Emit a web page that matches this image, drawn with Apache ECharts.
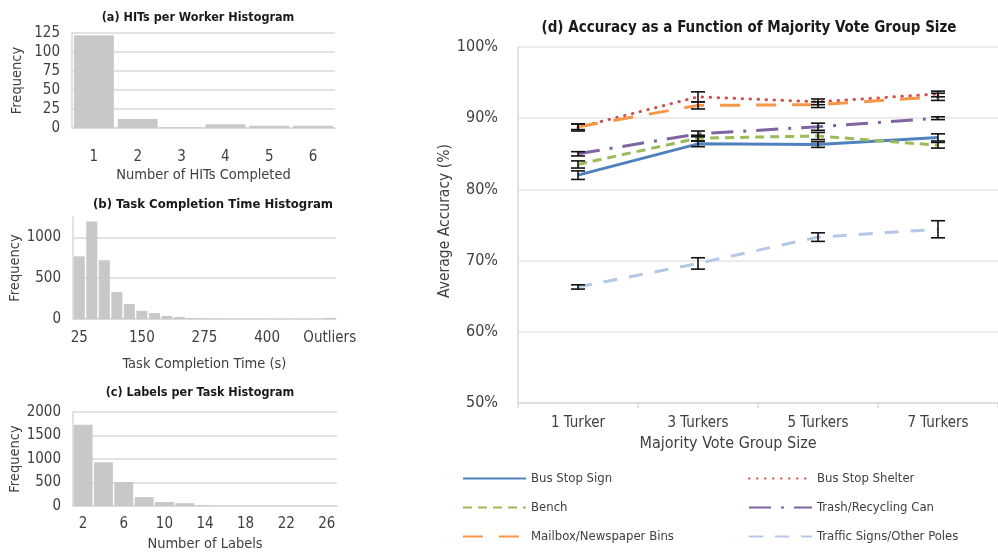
<!DOCTYPE html>
<html>
<head>
<meta charset="utf-8">
<script src="https://cdn.jsdelivr.net/npm/echarts@6/dist/echarts.min.js"></script>
<style>
  html, body { margin: 0; padding: 0; background: #fff; }
  #main { width: 998px; height: 558px; }
</style>
</head>
<body>
<div id="main"></div>
<script>
// (a) HITs per worker
const hitsCats = ['1', '2', '3', '4', '5', '6'];
const hitsFreq = [122, 12, 1, 5, 3, 3];

// (b) task completion time (s)
const timeCats = ['25', '50', '75', '100', '125', '150', '175', '200', '225', '250', '275',
                  '300', '325', '350', '375', '400', '425', '450', '475', '500', 'Outliers'];
const timeFreq = [768, 1195, 720, 330, 183, 100, 73, 37, 25, 12, 6, 4, 3, 2, 2, 1, 1, 1, 1, 1, 15];

// (c) labels per task
const labelCats = ['2', '4', '6', '8', '10', '12', '14', '16', '18', '20', '22', '24', '26'];
const labelFreq = [1730, 930, 510, 190, 85, 60, 10, 5, 3, 2, 1, 1, 1];

// (d) accuracy vs majority vote group size
const groupSizes = ['1 Turker', '3 Turkers', '5 Turkers', '7 Turkers'];
const busStopSign = [82.0, 86.4, 86.3, 87.3];
const busStopSignErr = [0.6, 0.4, 0.4, 0.5];
const busStopShelter = [88.7, 93.0, 92.3, 93.4];
const busStopShelterErr = [0.5, 0.7, 0.4, 0.4];
const bench = [83.5, 87.2, 87.5, 86.2];
const benchErr = [0.5, 0.4, 0.5, 0.4];
const trashCan = [85.0, 87.8, 88.8, 90.0];
const trashCanErr = [0.3, 0.4, 0.5, 0.2];
const mailbox = [88.8, 91.8, 91.9, 93.0];
const mailboxErr = [0.4, 0.5, 0.4, 0.5];
const trafficSigns = [66.3, 69.6, 73.3, 74.4];
const trafficSignsErr = [0.3, 0.8, 0.6, 1.2];

const FONT = "'DejaVu Sans Condensed', 'DejaVu Sans', sans-serif";
const TXT = '#404040';
const GRID = '#d9d9d9';
const BAR = '#c8c8c8';

const chart = echarts.init(document.getElementById('main'), null, { renderer: 'canvas' });

function histX(idx, cats, interval, margin, name, gap) {
    return {
        type: 'category', gridIndex: idx, data: cats,
        axisLine: { show: true, lineStyle: { color: GRID, width: 1.5 } },
        axisTick: { show: false },
        axisLabel: { interval: interval, margin: margin, color: TXT, fontSize: 15, fontFamily: FONT },
        name: name, nameLocation: 'middle', nameGap: gap,
        nameTextStyle: { color: TXT, fontSize: 14.5, fontFamily: FONT }
    };
}

function histY(idx, max, interval, gridColors) {
    return {
        type: 'value', gridIndex: idx, min: 0, max: max, interval: interval,
        axisLine: { show: true, lineStyle: { color: GRID, width: 1.5 } },
        axisTick: { show: false },
        axisLabel: {
            margin: 12, color: TXT, fontSize: 15, fontFamily: FONT,
            formatter: function (v) { return (v % interval === 0) ? String(v) : ''; }
        },
        splitLine: { show: true, lineStyle: { color: gridColors, width: 1.5 } },
        name: 'Frequency', nameLocation: 'middle', nameGap: 47, nameRotate: 90,
        nameTextStyle: { color: TXT, fontSize: 14.5, fontFamily: FONT }
    };
}

function errData(vals, errs) {
    return vals.map(function (v, i) { return [i, v - errs[i], v + errs[i]]; });
}

function errorBars(name, vals, errs) {
    return {
        type: 'custom', name: name + ' err', xAxisIndex: 3, yAxisIndex: 3, z: 5,
        encode: { x: 0, y: [1, 2] },
        data: errData(vals, errs),
        renderItem: function (params, api) {
            const x = api.value(0);
            const top = api.coord([x, api.value(2)]);
            const bot = api.coord([x, api.value(1)]);
            const hw = 7;
            const st = { stroke: '#111', lineWidth: 1.6 };
            return {
                type: 'group', children: [
                    { type: 'line', shape: { x1: top[0], y1: top[1], x2: bot[0], y2: bot[1] }, style: st },
                    { type: 'line', shape: { x1: top[0] - hw, y1: top[1], x2: top[0] + hw, y2: top[1] }, style: st },
                    { type: 'line', shape: { x1: bot[0] - hw, y1: bot[1], x2: bot[0] + hw, y2: bot[1] }, style: st }
                ]
            };
        }
    };
}

function accLine(name, vals, color, dash, cap) {
    return {
        type: 'line', name: name, xAxisIndex: 3, yAxisIndex: 3, data: vals,
        symbol: 'none', z: 3,
        lineStyle: { color: color, width: 3, type: dash, cap: cap || 'butt' },
        itemStyle: { color: color }
    };
}

function titleText(text, x, y, size) {
    return {
        type: 'text', x: x, y: y,
        style: { text: text, fill: '#1a1a1a', font: 'bold ' + size + 'px ' + FONT, textAlign: 'center', textVerticalAlign: 'middle' }
    };
}

const legendBase = {
    orient: 'vertical', top: 467, itemGap: 16, itemWidth: 63, itemHeight: 14,
    itemStyle: { opacity: 0 },
    textStyle: { color: TXT, fontSize: 13, fontFamily: FONT }
};

const option = {
    animation: false,
    backgroundColor: '#ffffff',
    graphic: [
        titleText('(a) HITs per Worker Histogram', 198, 18, 12.5),
        titleText('(b) Task Completion Time Histogram', 213, 205, 13),
        titleText('(c) Labels per Task Histogram', 200, 393, 12.5),
        titleText('(d) Accuracy as a Function of Majority Vote Group Size', 749, 28, 15)
    ],
    grid: [
        { left: 72, top: 33, width: 263, height: 95 },
        { left: 73, top: 217, width: 263, height: 102 },
        { left: 73, top: 412, width: 264, height: 94 },
        { left: 518, top: 47, width: 480, height: 356 }
    ],
    legend: [
        Object.assign({ left: 457, data: ['Bus Stop Sign', 'Bench', 'Mailbox/Newspaper Bins'] }, legendBase),
        Object.assign({ left: 743, data: ['Bus Stop Shelter', 'Trash/Recycling Can', 'Traffic Signs/Other Poles'] }, legendBase)
    ],
    xAxis: [
        histX(0, hitsCats, 0, 22, 'Number of HITs Completed', 40),
        histX(1, timeCats, 4, 12, 'Task Completion Time (s)', 38),
        histX(2, labelCats, 1, 11, 'Number of Labels', 31),
        {
            type: 'category', gridIndex: 3, data: groupSizes,
            axisLine: { show: true, lineStyle: { color: GRID, width: 1.5 } },
            axisTick: { show: true, length: 5, lineStyle: { color: GRID, width: 1.5 } },
            axisLabel: { margin: 13, color: TXT, fontSize: 15, fontFamily: FONT },
            name: 'Majority Vote Group Size', nameLocation: 'middle', nameGap: 31,
            nameTextStyle: { color: TXT, fontSize: 16, fontFamily: FONT, padding: [0, 60, 0, 0] }
        }
    ],
    yAxis: [
        histY(0, 125, 25, [GRID]),
        histY(1, 1250, 500, [GRID, GRID, GRID, 'rgba(0,0,0,0)']),
        histY(2, 2000, 500, [GRID]),
        {
            type: 'value', gridIndex: 3, min: 50, max: 100, interval: 10,
            axisLine: { show: true, lineStyle: { color: GRID, width: 1.5 } },
            axisTick: { show: false },
            axisLabel: { margin: 20, color: TXT, fontSize: 16, fontFamily: FONT, formatter: '{value}%' },
            splitLine: { show: true, lineStyle: { color: '#e6e6e6', width: 1.5 } },
            name: 'Average Accuracy (%)', nameLocation: 'middle', nameGap: 49, nameRotate: 90,
            nameTextStyle: { color: TXT, fontSize: 15.5, fontFamily: FONT, padding: [0, 0, 0, 8] }
        }
    ],
    series: [
        { type: 'bar', xAxisIndex: 0, yAxisIndex: 0, data: hitsFreq, barCategoryGap: '9%', itemStyle: { color: BAR } },
        { type: 'bar', xAxisIndex: 1, yAxisIndex: 1, data: timeFreq, barCategoryGap: '12%', itemStyle: { color: BAR } },
        { type: 'bar', xAxisIndex: 2, yAxisIndex: 2, data: labelFreq, barCategoryGap: '7%', itemStyle: { color: BAR } },

        accLine('Bus Stop Sign', busStopSign, '#4f81bd', 'solid'),
        accLine('Bus Stop Shelter', busStopShelter, '#d0504d', [0.5, 7.5], 'round'),
        accLine('Bench', bench, '#9bbb59', [9, 6]),
        accLine('Trash/Recycling Can', trashCan, '#8064a2', [22, 10, 3, 10]),
        accLine('Mailbox/Newspaper Bins', mailbox, '#f79646', [20, 16]),
        accLine('Traffic Signs/Other Poles', trafficSigns, '#b4c7e7', [14, 12]),

        errorBars('Bus Stop Sign', busStopSign, busStopSignErr),
        errorBars('Bus Stop Shelter', busStopShelter, busStopShelterErr),
        errorBars('Bench', bench, benchErr),
        errorBars('Trash/Recycling Can', trashCan, trashCanErr),
        errorBars('Mailbox/Newspaper Bins', mailbox, mailboxErr),
        errorBars('Traffic Signs/Other Poles', trafficSigns, trafficSignsErr)
    ]
};

chart.setOption(option);
</script>
</body>
</html>
